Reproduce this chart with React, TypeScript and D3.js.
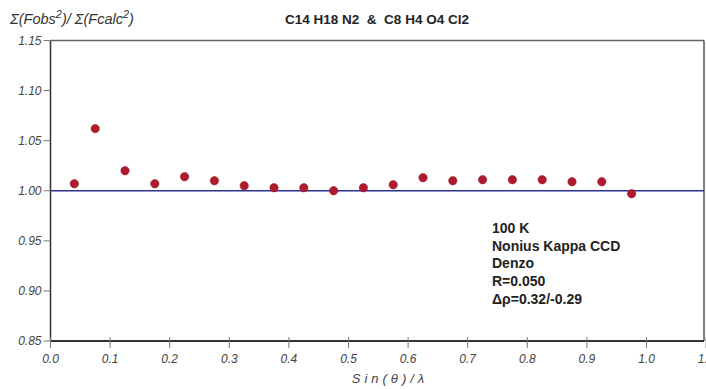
import React from "react";
import * as d3 from "d3";

const xValues = [0.04, 0.075, 0.125, 0.175, 0.225, 0.275, 0.325, 0.375, 0.425, 0.475, 0.525, 0.575, 0.625, 0.675, 0.725, 0.775, 0.825, 0.875, 0.925, 0.975];
const yValues = [1.007, 1.062, 1.020, 1.007, 1.014, 1.010, 1.005, 1.003, 1.003, 1.000, 1.003, 1.006, 1.013, 1.010, 1.011, 1.011, 1.011, 1.009, 1.009, 0.997];
const xTicks = [0, 0.1, 0.2, 0.3, 0.4, 0.5, 0.6, 0.7, 0.8, 0.9, 1.0, 1.1];
const yTicks = [0.85, 0.9, 0.95, 1.0, 1.05, 1.1, 1.15];
const title = "C14 H18 N2  &  C8 H4 O4 Cl2";
const infoLines = ["100 K", "Nonius Kappa CCD", "Denzo", "R=0.050", "\u0394\u03C1=0.32/-0.29"];

export default function App() {
  const W = 706, H = 389;
  const left = 50.5, right = 704, top = 40.5, bottom = 341;
  const x = d3.scaleLinear().domain([0, 1.1]).range([left, left + 1.1 * 596]);
  const y = d3.scaleLinear().domain([0.85, 1.15]).range([bottom, top]);
  const tickFont = { fontFamily: "Liberation Sans, Arial, sans-serif", fontStyle: "italic", fontSize: 12, fill: "#444" } as const;
  return (
    <svg width={W} height={H} style={{ position: "absolute", left: 0, top: 0, background: "#fff" }}>
      <rect x={0} y={0} width={W} height={H} fill="#fff" />
      {/* frame */}
      <line x1={left} x2={right} y1={top} y2={top} stroke="#666" strokeWidth={1.5} />
      <line x1={right} x2={right} y1={top} y2={bottom} stroke="#555" strokeWidth={1.5} />
      <line x1={left} x2={left} y1={top} y2={bottom} stroke="#333" strokeWidth={1.5} />
      <line x1={left} x2={right} y1={bottom} y2={bottom} stroke="#333" strokeWidth={2} />
      {/* reference line */}
      <line x1={left} x2={right} y1={y(1.0)} y2={y(1.0)} stroke="#2e3192" strokeWidth={1.3} />
      {/* y ticks */}
      {yTicks.map((t) => (
        <g key={"y" + t}>
          <line x1={left - 7} x2={left} y1={y(t)} y2={y(t)} stroke="#777" strokeWidth={1} />
          <text x={left - 9} y={y(t) + 4} textAnchor="end" {...tickFont}>{d3.format(".2f")(t)}</text>
        </g>
      ))}
      {/* x ticks */}
      {xTicks.map((t) => (
        <g key={"x" + t}>
          <line x1={x(t)} x2={x(t)} y1={bottom - 4} y2={bottom + 7} stroke="#777" strokeWidth={1} />
          <text x={x(t)} y={363} textAnchor="middle" {...tickFont}>{d3.format(".1f")(t)}</text>
        </g>
      ))}
      {/* points */}
      {xValues.map((v, i) => (
        <circle key={i} cx={x(v)} cy={y(yValues[i])} r={4.2} fill="#b01a2c" stroke="#8e1020" strokeWidth={0.5} />
      ))}
      {/* titles */}
      <text x={377} y={24} textAnchor="middle" fontFamily="Liberation Sans, Arial, sans-serif" fontWeight="bold" fontSize={13.5} fill="#222" style={{ whiteSpace: "pre" }}>{title}</text>
      <text x={10} y={24} fontFamily="Liberation Sans, Arial, sans-serif" fontStyle="italic" fontSize={14.5} fill="#333">
        <tspan>Σ(Fobs</tspan>
        <tspan dy={-6} fontSize={11}>2</tspan>
        <tspan dy={6}>)/ Σ(Fcalc</tspan>
        <tspan dy={-6} fontSize={11}>2</tspan>
        <tspan dy={6}>)</tspan>
      </text>
      <text x={390} y={383} textAnchor="middle" fontFamily="Liberation Sans, Arial, sans-serif" fontStyle="italic" fontSize={13} fill="#444" letterSpacing={4}>Sin(θ)/λ</text>
      {/* info */}
      {infoLines.map((s, i) => (
        <text key={i} x={492} y={233 + i * 17.7} fontFamily="Liberation Sans, Arial, sans-serif" fontWeight="bold" fontSize={14} fill="#222">{s}</text>
      ))}
    </svg>
  );
}
